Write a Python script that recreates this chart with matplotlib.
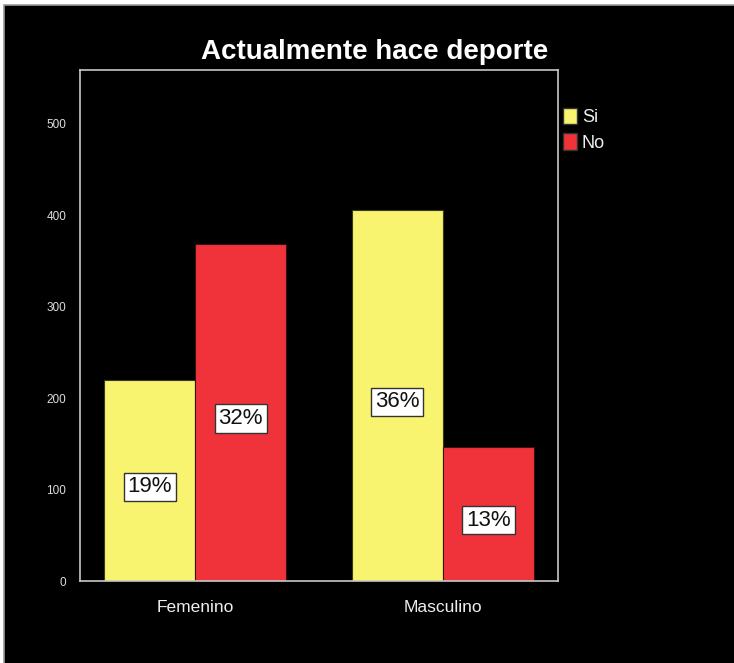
import matplotlib
matplotlib.use("Agg")
import matplotlib.pyplot as plt
from matplotlib.patches import Rectangle, Patch
import numpy as np

plt.rcParams['font.family'] = ['Liberation Sans', 'DejaVu Sans']

categories = ["Femenino", "Masculino"]
series_names = ["Si", "No"]
si_counts = [220, 406]
no_counts = [369, 147]
si_pct = ["19%", "36%"]
no_pct = ["32%", "13%"]
yticks = [0, 100, 200, 300, 400, 500]

yellow = "#F9F46F"
red = "#F0333A"

fig = plt.figure(figsize=(7.34, 6.63), dpi=100)
fig.patch.set_facecolor("white")
# black panel, grey frame visible only on top and left
fig.patches.append(Rectangle((4 / 734, -0.05), 1.1, 1.05 - 5 / 663, transform=fig.transFigure,
                             facecolor="black", edgecolor="#9a9a9a", linewidth=1.2, zorder=-10))

ax = fig.add_axes([80 / 734, 82 / 663, 478 / 734, 511 / 663])
ax.set_facecolor("black")

x = np.arange(len(categories))
w = 0.367
ax.bar(x - w / 2, si_counts, w, color=yellow, edgecolor="#3a3a20", linewidth=0.8)
ax.bar(x + w / 2, no_counts, w, color=red, edgecolor="#3a1010", linewidth=0.8)

box = dict(boxstyle="square,pad=0.17", facecolor="white", edgecolor="#333333", linewidth=1)
for xi, v, lab in zip(x - w / 2, si_counts, si_pct):
    ax.text(xi, v / 2 - 7, lab, ha="center", va="center", fontsize=16, color="#111111", bbox=box)
for xi, v, lab in zip(x + w / 2, no_counts, no_pct):
    ax.text(xi, v / 2 - 7, lab, ha="center", va="center", fontsize=16, color="#111111", bbox=box)

ax.set_xlim(-0.464, 1.464)
ax.set_ylim(0, 559)
ax.set_yticks(yticks)
ax.set_yticklabels([str(t) for t in yticks], fontsize=8.5, color="#dddddd")
ax.set_xticks(x)
ax.set_xticklabels(categories, fontsize=12.5, color="#eeeeee")
ax.tick_params(axis="both", length=0)
ax.tick_params(axis="y", pad=10)
ax.tick_params(axis="x", pad=14)
for s in ax.spines.values():
    s.set_color("#c8c8c8")
    s.set_linewidth(1.2)

fig.text(0.511, 1 - 52 / 663, "Actualmente hace deporte", ha="center", va="center",
         fontsize=20, fontweight="bold", color="white")

handles = [Patch(facecolor=yellow, edgecolor="#333333"), Patch(facecolor=red, edgecolor="#333333")]
fig.legend(handles, series_names, loc="upper left", bbox_to_anchor=(563 / 734, 1 - 108 / 663),
           frameon=False, fontsize=13, labelcolor="#eeeeee", handlelength=0.8, handleheight=1.0,
           handletextpad=0.25, labelspacing=0.4, borderaxespad=0, borderpad=0)

fig.savefig("out.png", dpi=100, facecolor=fig.get_facecolor())
